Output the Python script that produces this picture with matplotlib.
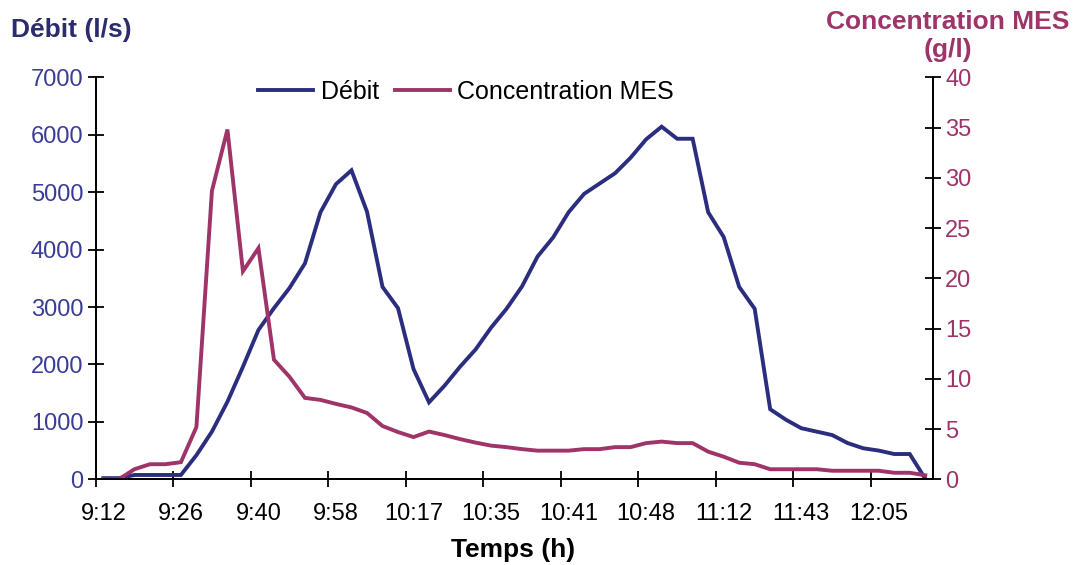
import numpy as np
import matplotlib
matplotlib.use('Agg')
import matplotlib.pyplot as plt

plt.rcParams['font.family'] = ['Liberation Sans', 'DejaVu Sans']

# category labels shown on the x axis (one every 5 samples)
time_labels = ['9:12', '9:26', '9:40', '9:58', '10:17', '10:35',
               '10:41', '10:48', '11:12', '11:43', '12:05']

# Débit (l/s), one value per sample
debit = [20, 20, 75, 75, 75, 75, 420, 830, 1350, 1960,
         2600, 2980, 3330, 3760, 4650, 5140, 5380, 4660, 3350, 2980,
         1920, 1340, 1630, 1960, 2260, 2640, 2970, 3360, 3880, 4210,
         4650, 4970, 5150, 5330, 5600, 5920, 6140, 5930, 5930, 4650,
         4220, 3350, 2970, 1220, 1040, 890, 830, 770, 630, 540,
         500, 440, 440, 10]

# Concentration MES (g/l)
mes = [0, 0, 1.0, 1.5, 1.5, 1.7, 5.2, 28.7, 34.8, 20.7,
       23.0, 11.9, 10.2, 8.1, 7.9, 7.5, 7.15, 6.6, 5.3, 4.7,
       4.2, 4.75, 4.4, 4.0, 3.65, 3.35, 3.2, 3.0, 2.85, 2.85,
       2.85, 3.0, 3.0, 3.2, 3.2, 3.6, 3.75, 3.6, 3.6, 2.75,
       2.25, 1.65, 1.5, 1.0, 1.0, 1.0, 1.0, 0.85, 0.85, 0.85,
       0.85, 0.65, 0.65, 0.4]

c_debit = '#2B2E7E'
c_debit_txt = '#3A3C96'
c_mes = '#9E3468'

n = len(debit)
x = np.arange(n)

fig = plt.figure(figsize=(10.78, 5.65), dpi=100)
ax = fig.add_axes([0.0887, 0.1517, 0.7768, 0.7115])
ax2 = ax.twinx()

l1, = ax.plot(x, debit, color=c_debit, lw=2.8, label='Débit', solid_joinstyle='miter')
l2, = ax2.plot(x, mes, color=c_mes, lw=2.8, label='Concentration MES', solid_joinstyle='miter')

ax.set_xlim(-0.5, n - 0.5)
ax.set_ylim(0, 7000)
ax2.set_ylim(0, 40)
ax.set_yticks(np.arange(0, 7001, 1000))
ax2.set_yticks(np.arange(0, 41, 5))

# labels centred on the categories, tick marks on the boundaries
ax.set_xticks(np.arange(0, n, 5), time_labels)
ax.set_xticks(np.arange(-0.5, n - 1, 5), minor=True)
ax.tick_params(axis='x', which='major', length=0, pad=17, labelsize=17)
ax.tick_params(axis='x', which='minor', direction='inout', length=11.5, width=1.3)
ax.tick_params(axis='y', direction='inout', length=11.5, width=1.3,
               labelsize=17, labelcolor=c_debit_txt, pad=3)
ax2.tick_params(axis='y', direction='inout', length=11.5, width=1.3,
                labelsize=17, labelcolor=c_mes, pad=3)

for a in (ax, ax2):
    a.spines['top'].set_visible(False)
    for s in ('left', 'right', 'bottom'):
        a.spines[s].set_linewidth(1.3)

ax.legend(handles=[l1, l2], loc='center left', bbox_to_anchor=(0.194, 0.963),
          ncol=2, frameon=False, fontsize=18, handlelength=2.2,
          handletextpad=0.3, columnspacing=0.65, borderaxespad=0, borderpad=0)

fig.text(0.01, 1 - 30 / 565, 'Débit (l/s)', color='#2B2C6E', fontsize=19,
         fontweight='bold', ha='left', va='center')
fig.text(948 / 1078, 1 - 36 / 565, 'Concentration MES\n(g/l)', color=c_mes,
         fontsize=19, fontweight='bold', ha='center', va='center', linespacing=1.2)
fig.text(513 / 1078, 1 - 550 / 565, 'Temps (h)', color='black', fontsize=19,
         fontweight='bold', ha='center', va='center')

fig.savefig('out.png', dpi=100)
